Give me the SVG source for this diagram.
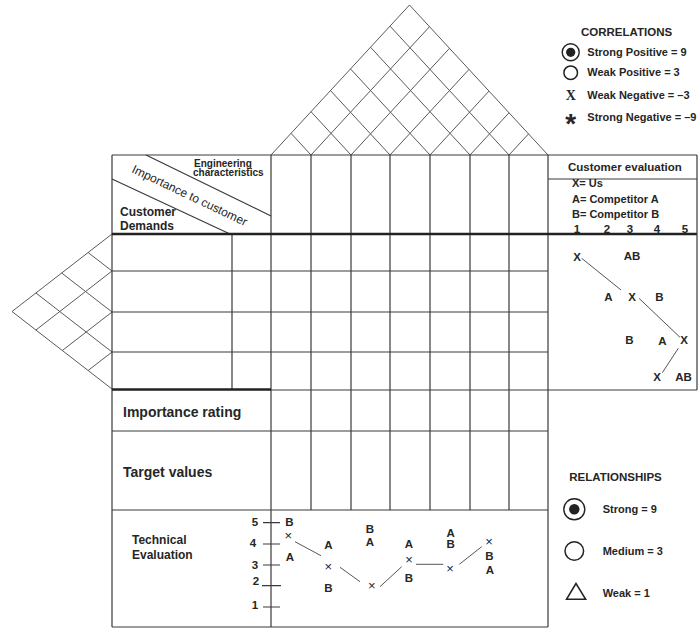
<svg xmlns="http://www.w3.org/2000/svg" width="699" height="630" viewBox="0 0 699 630">
  <style>
    .grid { stroke: #3a3a3a; stroke-width: 1.2; fill: none; }
    .thick { stroke: #222; stroke-width: 2.6; fill: none; }
    .roof { stroke: #5a5a5a; stroke-width: 1; fill: none; }
    .link { stroke: #555; stroke-width: 1; fill: none; }
    text { font-family: "Liberation Sans", Arial, sans-serif; fill: #262626; }
    .b { font-weight: bold; }
    .mark { font-weight: bold; font-size: 11.5px; text-anchor: middle; }
    .cross { font-size: 13px; text-anchor: middle; fill: #444; }
    .serif { font-family: "Liberation Serif", "Times New Roman", serif; }
  </style>

  <!-- correlation roof above the engineering characteristics -->
  <g id="roof" class="roof">
    <path d="M271 155 L409.5 5 L548 155"/>
    <path d="M311 155 L429.5 26.7 M351 155 L449.5 48.3 M390 155 L469 69.4 M430 155 L489 91.1 M470 155 L509 112.8 M509 155 L528.5 133.9"/>
    <path d="M311 155 L291 133.3 M351 155 L311 111.7 M390 155 L330.5 90.6 M430 155 L350.5 68.9 M470 155 L370.5 47.2 M509 155 L390 26.1"/>
  </g>

  <!-- correlation wall beside the customer demands -->
  <g id="demand-roof" class="roof">
    <path d="M112 234 L12 311.5 L112 389"/>
    <path d="M112 271 L88.1 252.5 M112 312 L61.7 273 M112 352 L35.9 293"/>
    <path d="M112 271 L35.9 330 M112 312 L62.3 350.5 M112 352 L88.1 370.5"/>
  </g>

  <!-- corner header cell -->
  <g id="header">
    <path class="grid" d="M112 155 L697 155 M112 155 L112 627"/>
    <path class="grid" d="M146 155 L271 216 M112 179 L230 234"/>
    <text class="b" x="194" y="166.5" font-size="10">Engineering</text>
    <text class="b" x="193" y="176" font-size="10">characteristics</text>
    <text transform="translate(131 172) rotate(25.5)" font-size="12">Importance to customer</text>
    <text class="b" x="120" y="216" font-size="12">Customer</text>
    <text class="b" x="120" y="230" font-size="12">Demands</text>
  </g>

  <!-- relationship matrix -->
  <g id="matrix">
    <path class="grid" d="M271 155 L271 627 M311 155 L311 510 M351 155 L351 510 M390 155 L390 510 M430 155 L430 510 M470 155 L470 510 M509 155 L509 510 M548 155 L548 627"/>
    <path class="grid" d="M112 271 L548 271 M112 312 L548 312 M112 352 L548 352 M271 390 L548 390"/>
    <path class="grid" d="M232 234 L232 389"/>
    <path class="thick" d="M112 234 L697 234 M112 389.5 L271 389.5"/>
  </g>

  <!-- customer evaluation panel -->
  <g id="customer-evaluation">
    <path class="grid" d="M697 155 L697 390 M548 179 L697 179 M548 390 L697 390"/>
    <text class="b" x="568" y="171" font-size="11.5">Customer evaluation</text>
    <text class="b" x="572" y="187" font-size="11">X= Us</text>
    <text class="b" x="572" y="202.5" font-size="11">A= Competitor A</text>
    <text class="b" x="572" y="217.5" font-size="11">B= Competitor B</text>
    <g class="mark" font-size="11">
      <text x="577" y="232.5">1</text>
      <text x="607" y="232.5">2</text>
      <text x="630" y="232.5">3</text>
      <text x="657" y="232.5">4</text>
      <text x="685" y="232.5">5</text>
    </g>
    <g class="mark">
      <text x="577" y="260.7">X</text>
      <text x="632" y="260">AB</text>
      <text x="608.5" y="300.7">A</text>
      <text x="632" y="300.7">X</text>
      <text x="659.5" y="300.7">B</text>
      <text x="629.5" y="344">B</text>
      <text x="662.5" y="344.5">A</text>
      <text x="684" y="343.5">X</text>
      <text x="657" y="380.7">X</text>
      <text x="683.5" y="380.7">AB</text>
    </g>
  </g>

  <!-- importance rating and target value rows -->
  <g id="importance-rating">
    <path class="grid" d="M112 431 L548 431"/>
    <text class="b" x="123" y="417" font-size="14">Importance rating</text>
  </g>
  <g id="target-values">
    <path class="grid" d="M112 510 L548 510"/>
    <text class="b" x="123" y="477" font-size="14">Target values</text>
  </g>

  <!-- technical evaluation with its 1..5 scale -->
  <g id="technical-evaluation">
    <path class="grid" d="M112 627 L548 627"/>
    <text class="b" x="132" y="544" font-size="12">Technical</text>
    <text class="b" x="132" y="558.5" font-size="12">Evaluation</text>
    <path class="grid" d="M263 522.7 L280 522.7 M263 544 L280 544 M263 565 L280 565 M262 585.7 L281 585.7 M263 607 L280 607"/>
    <g class="mark" font-size="12">
      <text x="255" y="526">5</text>
      <text x="253" y="547">4</text>
      <text x="255" y="568.5">3</text>
      <text x="256" y="585">2</text>
      <text x="255" y="609">1</text>
    </g>
    <g class="mark">
      <text x="289.5" y="526">B</text>
      <text x="290" y="560.7">A</text>
      <text x="328.5" y="549">A</text>
      <text x="328.5" y="592.3">B</text>
      <text x="370" y="533">B</text>
      <text x="370" y="545.7">A</text>
      <text x="409" y="548.3">A</text>
      <text x="409" y="581.7">B</text>
      <text x="450.7" y="536.7">A</text>
      <text x="450.7" y="548.3">B</text>
      <text x="489.3" y="559.7">B</text>
      <text x="490" y="574">A</text>
    </g>
    <g class="cross">
      <text x="288.3" y="539.5">×</text>
      <text x="328.3" y="571">×</text>
      <text x="371.7" y="590.3">×</text>
      <text x="409" y="564.3">×</text>
      <text x="450" y="573.3">×</text>
      <text x="489" y="546">×</text>
    </g>
  </g>

  <!-- connectors between evaluation points -->
  <g id="connectors" class="link">
    <path d="M581.7 258.3 L621 290"/>
    <path d="M639 298.3 L680 337.3"/>
    <path d="M678.3 348.3 L662.3 372.7"/>
    <path d="M295 541.7 L321 555.7"/>
    <path d="M340 567.3 L360 581.7"/>
    <path d="M380 586.7 L401.7 566.7"/>
    <path d="M416 564.3 L443.3 564.3"/>
    <path d="M459.3 564.3 L481.7 546.7"/>
  </g>

  <!-- correlations legend -->
  <g id="correlations-legend">
    <text class="b" x="581" y="35.5" font-size="11.5">CORRELATIONS</text>
    <circle cx="570.7" cy="52.3" r="8.5" fill="none" stroke="#222" stroke-width="1.4"/>
    <circle cx="570.7" cy="52.3" r="4.6" fill="#222"/>
    <text class="b" x="587.3" y="55.5" font-size="11">Strong Positive = 9</text>
    <circle cx="570.7" cy="72.7" r="6.8" fill="none" stroke="#222" stroke-width="1.5"/>
    <text class="b" x="587.3" y="76" font-size="11">Weak Positive = 3</text>
    <text class="b serif" x="570.7" y="100" font-size="14" text-anchor="middle">X</text>
    <text class="b" x="587.3" y="99" font-size="11">Weak Negative = –3</text>
    <text class="b" x="570.7" y="133" font-size="28" text-anchor="middle">*</text>
    <text class="b" x="587.3" y="121" font-size="11">Strong Negative = –9</text>
  </g>

  <!-- relationships legend -->
  <g id="relationships-legend">
    <text class="b" x="569.3" y="481" font-size="11.5">RELATIONSHIPS</text>
    <circle cx="574.3" cy="509.3" r="10.5" fill="none" stroke="#222" stroke-width="1.4"/>
    <circle cx="574.3" cy="509.3" r="5.2" fill="#222"/>
    <text class="b" x="602.7" y="513" font-size="11">Strong = 9</text>
    <circle cx="574.3" cy="551" r="9.3" fill="none" stroke="#222" stroke-width="1.5"/>
    <text class="b" x="602.7" y="554.5" font-size="11">Medium = 3</text>
    <path d="M576 583.5 L566.5 599.3 L585.7 599.3 Z" fill="none" stroke="#222" stroke-width="1.5"/>
    <text class="b" x="602.7" y="597" font-size="11">Weak = 1</text>
  </g>
</svg>
